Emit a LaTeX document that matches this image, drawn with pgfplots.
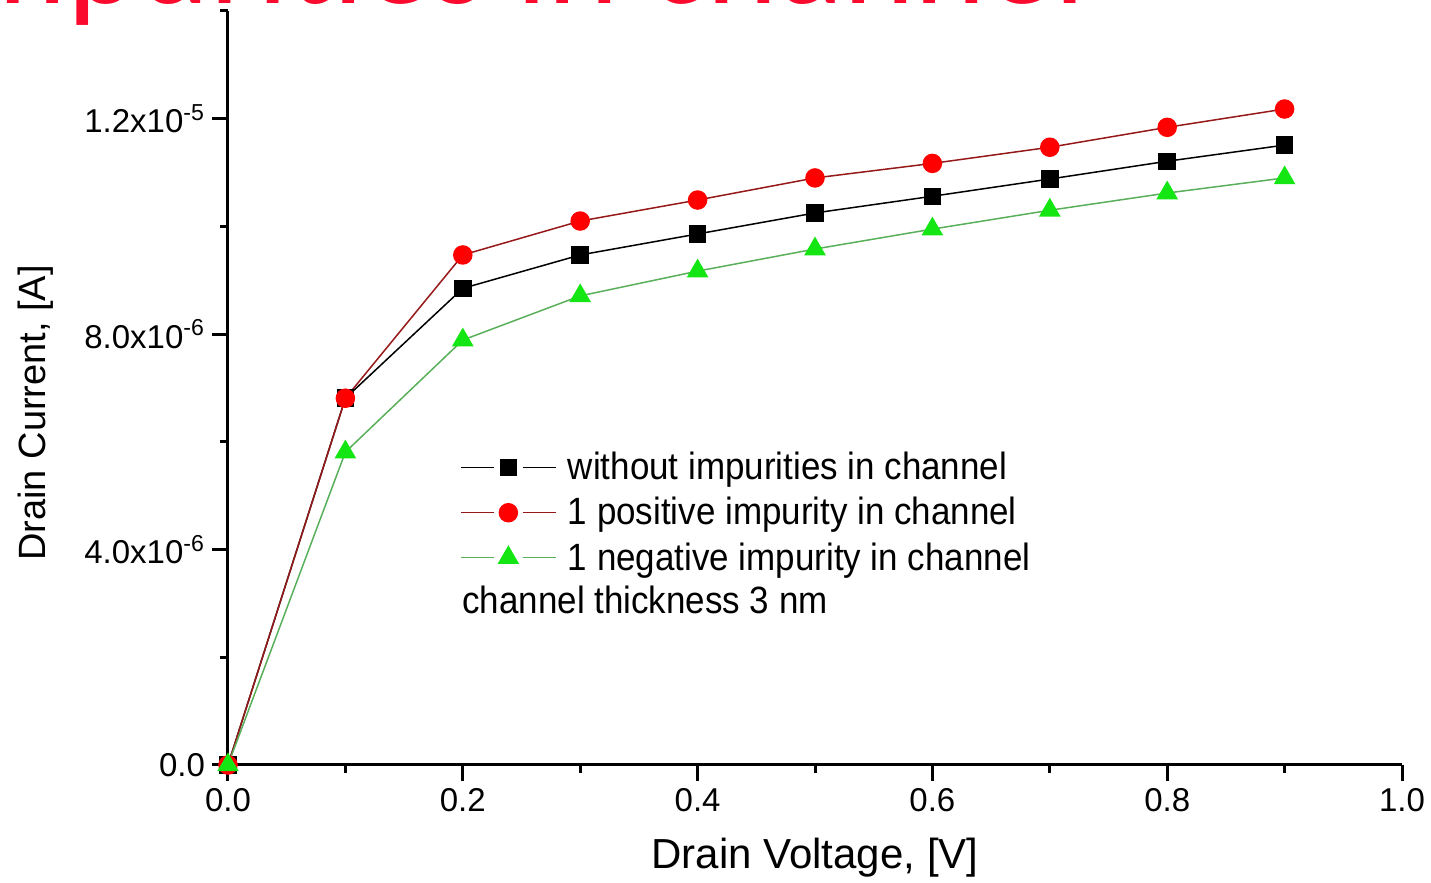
\documentclass[border=0pt]{standalone}
\usepackage{pgfplots}
\pgfplotsset{compat=1.18}
\usepackage{fontspec}
\setmainfont{Liberation Sans}
\newfontfamily\titlefont{Carlito}
\usepackage{graphicx}
\definecolor{titlered}{RGB}{250,10,45}
\definecolor{mred}{RGB}{255,0,0}
\definecolor{lred}{RGB}{150,25,25}
\definecolor{mgreen}{RGB}{20,230,20}
\definecolor{lgreen}{RGB}{90,175,90}

\pgfplotstableread{
x y
0.0 0
0.1 6.81e-6
0.2 8.85e-6
0.3 9.47e-6
0.4 9.86e-6
0.5 10.25e-6
0.6 10.56e-6
0.7 10.88e-6
0.8 11.21e-6
0.9 11.51e-6
}\nonimp
\pgfplotstableread{
x y
0.0 0
0.1 6.81e-6
0.2 9.47e-6
0.3 10.10e-6
0.4 10.49e-6
0.5 10.90e-6
0.6 11.17e-6
0.7 11.47e-6
0.8 11.84e-6
0.9 12.18e-6
}\posimp
\pgfplotstableread{
x y
0.0 0
0.1 5.81e-6
0.2 7.89e-6
0.3 8.71e-6
0.4 9.17e-6
0.5 9.58e-6
0.6 9.95e-6
0.7 10.30e-6
0.8 10.62e-6
0.9 10.90e-6
}\negimp

\begin{document}
\begin{tikzpicture}
\useasboundingbox (0,0) rectangle (715.5pt,441.5pt);
\begin{scope}
\clip (0,0) rectangle (715.5pt,441.5pt);
\node[anchor=base west, inner sep=0pt, text=titlered, font=\titlefont\fontsize{68}{70}\selectfont] at (-38pt,439.5pt) {Impurities in channel};
\end{scope}
\begin{axis}[
 at={(114pt,59pt)}, anchor=south west,
 scale only axis, width=587pt, height=377pt,
 xmin=0, xmax=1, ymin=0, ymax=1.4e-5,
 axis x line=bottom, axis y line=left,
 axis line style={-, line width=1.5pt},
 tick align=outside,
 major tick length=8pt, minor tick length=4pt,
 tick style={line width=1.5pt, black},
 xtick={0,0.2,0.4,0.6,0.8,1.0},
 xticklabels={0.0,0.2,0.4,0.6,0.8,1.0},
 minor xtick={0.1,0.3,0.5,0.7,0.9},
 ytick={0,4e-6,8e-6,1.2e-5},
 yticklabels={0.0, 4.0x10\textsuperscript{-6}, 8.0x10\textsuperscript{-6}, 1.2x10\textsuperscript{-5}},
 minor ytick={2e-6,6e-6,1e-5,1.4e-5},
 scaled y ticks=false,
 tick label style={font=\fontsize{16.5}{19}\selectfont},
 xlabel={Drain Voltage, [V]},
 ylabel={Drain Current, [A]},
 xlabel style={font=\fontsize{21}{24}\selectfont, at={(axis description cs:0.5,-0.123)}, anchor=center},
 ylabel style={font=\fontsize{19}{22}\selectfont, at={(axis description cs:-0.164,0.467)}, anchor=center},
 legend style={at={(axis description cs:0.1925,0.4257)}, anchor=north west, draw=none, fill=none,
   font=\fontsize{19}{22}\selectfont, row sep=3.25pt, legend cell align=left},
 legend image code/.code={%
   \draw[#1] (0cm,0cm) -- (0.58cm,0cm);
   \draw[#1] (1.08cm,0cm) -- (1.67cm,0cm);
   \draw[#1] plot coordinates {(0.83cm,0cm)};
   \path (1.67cm+3.5pt,0cm);},
]
\addplot[black, line width=0.75pt, mark=square*, mark size=4pt, mark options={solid, fill=black, draw=black}] table {\nonimp};
\addlegendentry{\scalebox{0.92}[1]{without impurities in channel}}
\addplot[lred, line width=0.75pt, mark=*, mark size=4.5pt, mark options={solid, fill=mred, draw=mred}] table {\posimp};
\addlegendentry{\scalebox{0.92}[1]{1 positive impurity in channel}}
\addplot[lgreen, line width=0.75pt, mark=triangle*, mark size=5.5pt, mark options={solid, fill=mgreen, draw=mgreen}] table {\negimp};
\addlegendentry{\scalebox{0.92}[1]{1 negative impurity in channel}}
\node[anchor=base west, inner sep=0pt, font=\fontsize{19}{22}\selectfont] at (axis description cs:0.1993,0.2003) {\scalebox{0.92}[1]{channel thickness 3 nm}};
\end{axis}
\end{tikzpicture}
\end{document}
